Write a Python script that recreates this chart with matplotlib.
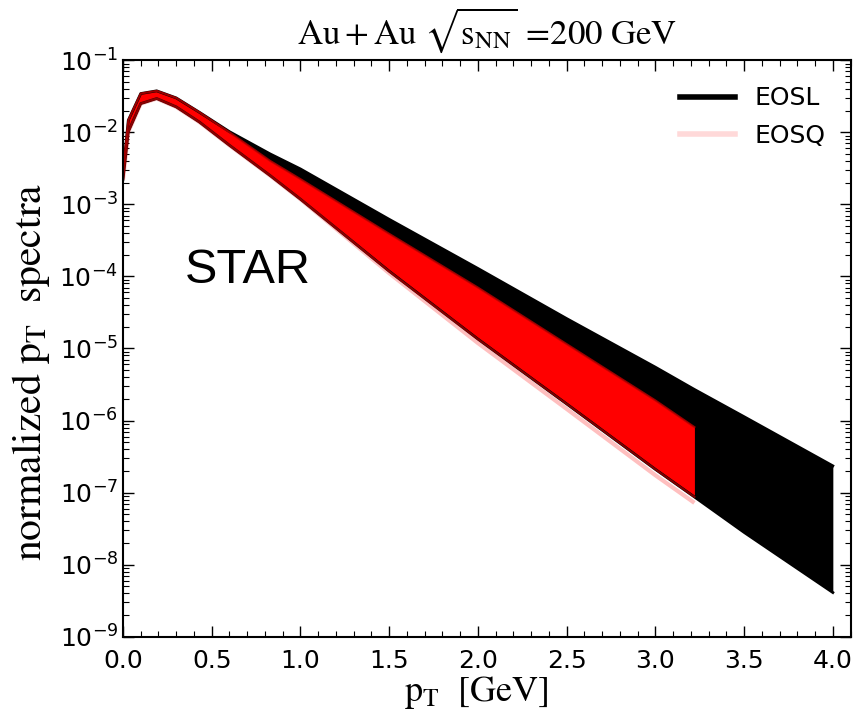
import matplotlib
matplotlib.use("Agg")
import matplotlib.pyplot as plt
from matplotlib.ticker import MultipleLocator, LogLocator, NullFormatter

plt.rcParams['mathtext.fontset'] = 'stix'
plt.rcParams['font.family'] = ['DejaVu Sans']

# pT grid [GeV] and envelopes of the spectra
pt_eosl = [0.0, 0.03, 0.1, 0.19, 0.3, 0.43, 0.6, 0.83, 1.0, 1.5, 2.0, 2.5, 3.0, 3.22, 3.5, 4.0]
eosl_upper = [2.7e-3, 1.47e-2, 3.45e-2, 3.76e-2, 3.0e-2, 1.9e-2, 1.02e-2, 5.0e-3, 3.1e-3,
              6.2e-4, 1.29e-4, 2.6e-5, 5.5e-6, 2.7e-6, 1.13e-6, 2.35e-7]
eosl_lower = [2.2e-3, 1.02e-2, 2.5e-2, 2.94e-2, 2.25e-2, 1.39e-2, 6.6e-3, 2.5e-3, 1.18e-3,
              1.18e-4, 1.35e-5, 1.7e-6, 2.1e-7, 8.7e-8, 2.8e-8, 4.1e-9]

pt_eosq = [0.0, 0.03, 0.1, 0.19, 0.3, 0.43, 0.6, 0.83, 1.0, 1.5, 2.0, 2.5, 3.0, 3.22]
eosq_upper = [2.7e-3, 1.47e-2, 3.45e-2, 3.76e-2, 3.0e-2, 1.9e-2, 1.0e-2, 4.0e-3, 2.24e-3,
              3.9e-4, 7.0e-5, 1.15e-5, 1.9e-6, 8.1e-7]
eosq_lower = [2.2e-3, 1.02e-2, 2.5e-2, 2.94e-2, 2.25e-2, 1.39e-2, 6.6e-3, 2.5e-3, 1.18e-3,
              1.18e-4, 1.35e-5, 1.7e-6, 2.1e-7, 8.7e-8]
eosq_lowest = [2.2e-3, 1.02e-2, 2.5e-2, 2.94e-2, 2.25e-2, 1.39e-2, 6.6e-3, 2.5e-3, 1.18e-3,
               1.11e-4, 1.19e-5, 1.45e-6, 1.74e-7, 7.2e-8]

fig = plt.figure(figsize=(8.54, 7.17), dpi=100)
ax = fig.add_axes([0.144, 0.112, 0.852, 0.804])

# EOSL: black band
ax.fill_between(pt_eosl, eosl_lower, eosl_upper, color='black', lw=0)
ax.plot(pt_eosl, eosl_upper, color='black', lw=2)
ax.plot(pt_eosl, eosl_lower, color='black', lw=2)

# EOSQ: red band on top, faint lowest curve
ax.plot(pt_eosq, eosq_lowest, color='red', alpha=0.25, lw=3, solid_capstyle='butt')
ax.fill_between(pt_eosq, eosq_lower, eosq_upper, color='red', lw=0)
ax.plot(pt_eosq, eosq_upper, color='#c00000', lw=1.5, alpha=0.8)
ax.plot(pt_eosq, eosq_lower, color='#a00000', lw=1.5, alpha=0.8)

# legend handles
ax.plot([], [], color='black', lw=4, label='EOSL')
ax.plot([], [], color='red', alpha=0.15, lw=4, label='EOSQ')
ax.legend(loc='upper right', frameon=False, fontsize=18, handlelength=2.2,
          labelspacing=0.55, borderaxespad=0.3, bbox_to_anchor=(0.99, 0.985))

ax.set_yscale('log')
ax.set_xlim(0, 4.1)
ax.set_ylim(1e-9, 1e-1)
ax.xaxis.set_major_locator(MultipleLocator(0.5))
ax.xaxis.set_minor_locator(MultipleLocator(0.1))
ax.yaxis.set_major_locator(LogLocator(base=10, numticks=20))
ax.yaxis.set_minor_locator(LogLocator(base=10, subs=range(2, 10), numticks=20))
ax.yaxis.set_minor_formatter(NullFormatter())
ax.tick_params(which='both', direction='in', top=True, right=True, labelsize=18)
ax.tick_params(axis='x', pad=9)
ax.tick_params(which='major', length=8, width=1)
ax.tick_params(which='minor', length=4, width=0.8)
for s in ax.spines.values():
    s.set_linewidth(1.5)

ax.text(0.085, 0.635, 'STAR', transform=ax.transAxes, fontsize=35,
        family='Liberation Sans', va='center', ha='left')

ax.set_title(r'$\mathrm{Au+Au}\ \sqrt{\mathrm{s}_{\mathrm{NN}}}\,=\!200\ \mathrm{GeV}$',
             fontsize=25, pad=12)
ax.set_xlabel(r'$\mathrm{p_T\ \ [GeV]}$', fontsize=26)
ax.xaxis.set_label_coords(0.486, -0.064)
fig.text(0.036, 0.482, r'$\mathrm{normalized\ p_T\ \ spectra}$', fontsize=30,
         rotation=90, ha='center', va='center')

fig.savefig('out.png', dpi=100)
